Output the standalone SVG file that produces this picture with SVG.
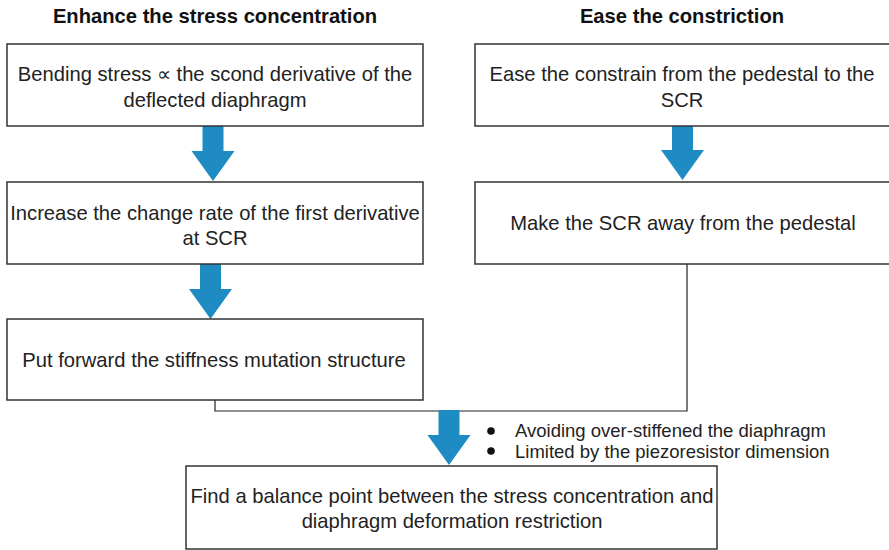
<svg xmlns="http://www.w3.org/2000/svg" width="889" height="550" viewBox="0 0 889 550">
  <defs>
    <style>
      .box { fill: #fff; stroke: #333; stroke-width: 1.5; }
      .t { font-family: "Liberation Sans", Arial, sans-serif; font-size: 20.2px; fill: #222; text-anchor: middle; }
      .h { font-family: "Liberation Sans", Arial, sans-serif; font-size: 20.2px; font-weight: bold; fill: #111; text-anchor: middle; }
      .b { font-family: "Liberation Sans", Arial, sans-serif; font-size: 18.5px; fill: #222; }
      .arrow { fill: #1e8bc3; }
      .wire { fill: none; stroke: #222; stroke-width: 1.2; }
    </style>
    <!-- block arrow pointing down, origin at the tip -->
    <path id="blockArrow" d="M -10.5 -55 H 10.5 V -30 H 21.5 L 0 0 L -21.5 -30 H -10.5 Z"/>
  </defs>

  <rect width="889" height="550" fill="#fff"/>

  <!-- column headings -->
  <text class="h" x="215" y="23">Enhance the stress concentration</text>
  <text class="h" x="682" y="23">Ease the constriction</text>

  <!-- connectors -->
  <g id="connectors">
    <polyline class="wire" points="687,264 687,411 215,411 215,400"/>
    <use href="#blockArrow" class="arrow" x="213" y="181"/>
    <use href="#blockArrow" class="arrow" x="210.5" y="319"/>
    <use href="#blockArrow" class="arrow" x="682.5" y="180"/>
    <use href="#blockArrow" class="arrow" x="449" y="465"/>
  </g>

  <g id="n1">
    <rect class="box" x="7" y="44" width="416" height="82"/>
    <text class="t" x="215" y="81">Bending stress ∝ the scond derivative of the</text>
    <text class="t" x="215" y="107">deflected diaphragm</text>
  </g>

  <g id="n2">
    <rect class="box" x="7" y="182" width="416" height="82"/>
    <text class="t" x="215" y="220">Increase the change rate of the first derivative</text>
    <text class="t" x="215" y="245">at SCR</text>
  </g>

  <g id="n3">
    <rect class="box" x="7" y="319" width="416" height="81"/>
    <text class="t" x="214" y="367">Put forward the stiffness mutation structure</text>
  </g>

  <g id="r1">
    <rect class="box" x="475" y="44" width="420" height="82"/>
    <text class="t" x="682" y="81">Ease the constrain from the pedestal to the</text>
    <text class="t" x="682" y="107">SCR</text>
  </g>

  <g id="r2">
    <rect class="box" x="475" y="182" width="420" height="82"/>
    <text class="t" x="683" y="230">Make the SCR away from the pedestal</text>
  </g>

  <g id="notes">
    <circle cx="491" cy="431" r="3.8" fill="#111"/>
    <circle cx="491" cy="451" r="3.8" fill="#111"/>
    <text class="b" x="515" y="437">Avoiding over-stiffened the diaphragm</text>
    <text class="b" x="515" y="458">Limited by the piezoresistor dimension</text>
  </g>

  <g id="n4">
    <rect class="box" x="186" y="466" width="531" height="83"/>
    <text class="t" x="452" y="503">Find a balance point between the stress concentration and</text>
    <text class="t" x="452" y="528">diaphragm deformation restriction</text>
  </g>
</svg>
